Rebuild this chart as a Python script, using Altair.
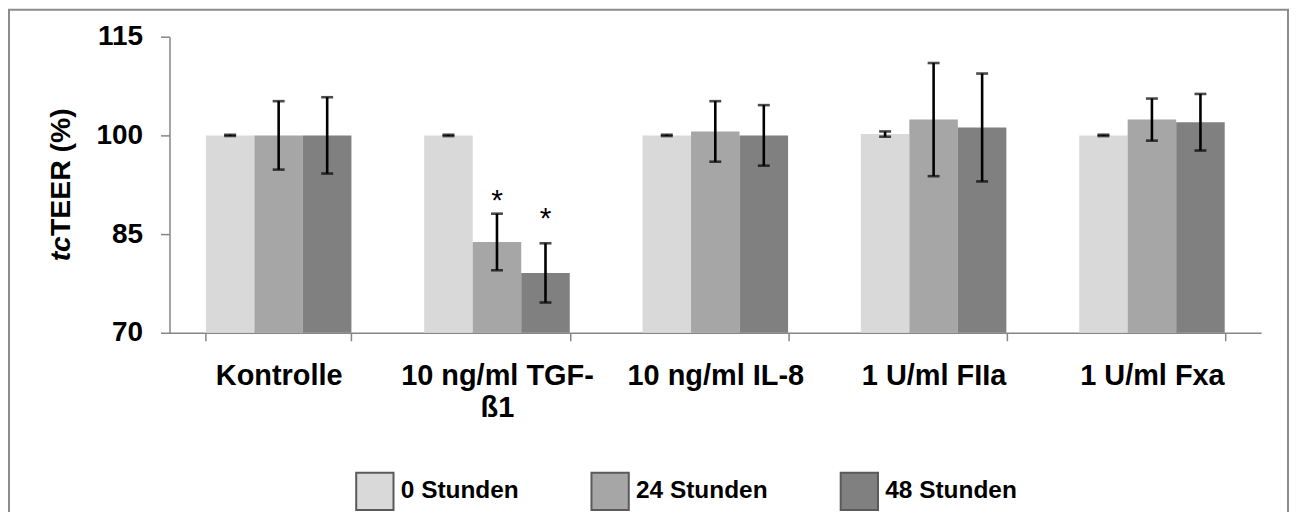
import altair as alt
import pandas as pd

# ---- data ----
categories = ["Kontrolle", "10 ng/ml TGF-ß1", "10 ng/ml IL-8", "1 U/ml FIIa", "1 U/ml Fxa"]
series = ["0 Stunden", "24 Stunden", "48 Stunden"]
values_0h = [100.0, 100.0, 100.0, 100.2, 100.0]
values_24h = [100.0, 83.8, 100.6, 102.4, 102.4]
values_48h = [100.0, 79.1, 100.0, 101.2, 102.0]
err_0h = [0.1, 0.1, 0.1, 0.4, 0.1]
err_24h = [5.2, 4.3, 4.6, 8.6, 3.2]
err_48h = [5.8, 4.5, 4.6, 8.2, 4.3]
star_categories = ["10 ng/ml TGF-ß1", "10 ng/ml TGF-ß1"]
star_series = ["24 Stunden", "48 Stunden"]
star_y = [91.3, 88.5]
y_ticks = [70, 85, 100, 115]
colors = ["#d9d9d9", "#a6a6a6", "#808080"]

rows = []
for vals, errs, s in [(values_0h, err_0h, series[0]),
                      (values_24h, err_24h, series[1]),
                      (values_48h, err_48h, series[2])]:
    for c, v, e in zip(categories, vals, errs):
        rows.append({"cat": c, "ser": s, "val": v, "lo": v - e, "hi": v + e})
df = pd.DataFrame(rows)
stars = pd.DataFrame({"cat": star_categories, "ser": star_series, "y": star_y, "t": ["*", "*"]})

FONT = "Liberation Sans"
W, H = 1095, 297

x_enc = alt.X("cat:N", sort=categories,
              scale=alt.Scale(paddingInner=1/3, paddingOuter=1/6),
              axis=alt.Axis(title=None, labelAngle=0, tickBand="extent", tickSize=8,
                            labelPadding=21, labelFontSize=29, labelLineHeight=32,
                            labelLimit=400,
                            labelExpr="datum.label == '10 ng/ml TGF-ß1' ? ['10 ng/ml TGF-', 'ß1'] : datum.label"))
xoff = alt.XOffset("ser:N", sort=series, scale=alt.Scale(paddingInner=0, paddingOuter=0))
y_scale = alt.Scale(domain=[70, 115], nice=False, zero=False)

base = alt.Chart(df)

bars = base.mark_bar().encode(
    x=x_enc,
    xOffset=xoff,
    y=alt.Y("val:Q", scale=y_scale,
            axis=alt.Axis(title=None, values=y_ticks, tickSize=9, labelPadding=18,
                          labelFontSize=28, grid=False)),
    y2=alt.datum(70),
    color=alt.Color("ser:N", sort=series,
                    scale=alt.Scale(domain=series, range=colors),
                    legend=alt.Legend(title=None, orient="none", direction="horizontal",
                                      legendX=186, legendY=436,
                                      symbolType="square", symbolSize=1400,
                                      symbolStrokeColor="#5a5a5a", symbolStrokeWidth=2,
                                      symbolOpacity=1, labelFontSize=24.5, labelFont=FONT,
                                      labelFontWeight="bold", labelColor="black",
                                      labelOffset=6, columnPadding=68)),
)

rule = base.mark_rule(color="black", strokeWidth=2.6).encode(
    x=alt.X("cat:N", sort=categories), xOffset=xoff,
    y=alt.Y("lo:Q", scale=y_scale), y2="hi:Q")
tick_lo = base.mark_tick(color="black", thickness=2.6, size=12).encode(
    x=alt.X("cat:N", sort=categories), xOffset=xoff, y=alt.Y("lo:Q", scale=y_scale))
tick_hi = base.mark_tick(color="black", thickness=2.6, size=12).encode(
    x=alt.X("cat:N", sort=categories), xOffset=xoff, y=alt.Y("hi:Q", scale=y_scale))

star_text = alt.Chart(stars).mark_text(font=FONT, fontSize=30, color="black",
                                       baseline="middle", dy=8).encode(
    x=alt.X("cat:N", sort=categories), xOffset=alt.XOffset("ser:N", sort=series),
    y=alt.Y("y:Q", scale=y_scale), text="t:N")

title_tc = alt.Chart(pd.DataFrame({"t": ["tc"]})).mark_text(
    font=FONT, fontSize=28.5, fontWeight="bold", fontStyle="italic", angle=270,
    align="right", baseline="middle", color="black").encode(
    x=alt.value(-109), y=alt.value(200), text="t:N")
title_rest = alt.Chart(pd.DataFrame({"t": ["TEER (%)"]})).mark_text(
    font=FONT, fontSize=28.5, fontWeight="bold", angle=270,
    align="left", baseline="middle", color="black").encode(
    x=alt.value(-109), y=alt.value(200), text="t:N")

frame = alt.Chart(pd.DataFrame({"f": [1]})).mark_rect(
    filled=False, stroke="#8c8c8c", strokeWidth=2).encode(
    x=alt.value(-161), x2=alt.value(1122), y=alt.value(-27), y2=alt.value(520))

chart = alt.layer(frame, bars, rule, tick_lo, tick_hi, star_text, title_tc, title_rest).properties(
    width=W, height=H,
    autosize=alt.AutoSizeParams(type="none"),
    padding={"left": 162, "top": 28, "right": 29, "bottom": 179},
).resolve_scale(xOffset="shared").configure_view(stroke=None).configure_axis(
    labelFont=FONT, labelFontWeight="bold", labelColor="black",
    domainColor="#868686", tickColor="#868686", domainWidth=1.5, tickWidth=1.5,
)

chart.save("out.html", embed_options={"renderer": "svg", "actions": False})
